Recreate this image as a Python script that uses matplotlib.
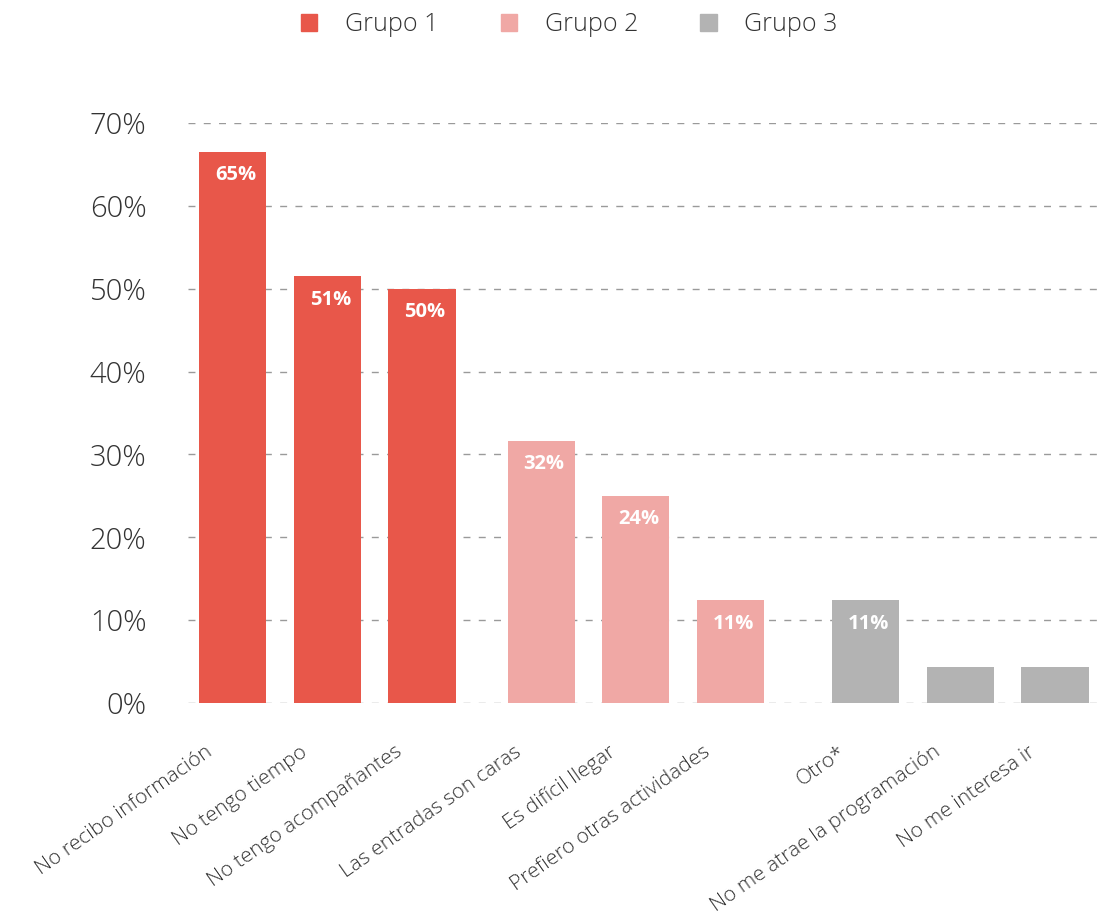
import matplotlib
matplotlib.use("Agg")
import matplotlib.pyplot as plt
import matplotlib.transforms as mtransforms
import numpy as np
from matplotlib.patches import Patch

plt.rcParams["font.family"] = ["Open Sans", "DejaVu Sans"]

categories = [
    "No recibo información", "No tengo tiempo", "No tengo acompañantes",
    "Las entradas son caras", "Es difícil llegar", "Prefiero otras actividades",
    "Otro*", "No me atrae la programación", "No me interesa ir",
]
values = [66.5, 51.5, 50.0, 31.6, 25.0, 12.4, 12.4, 4.3, 4.3]
value_labels = ["65%", "51%", "50%", "32%", "24%", "11%", "11%", "", ""]
groups = [1, 1, 1, 2, 2, 2, 3, 3, 3]
group_names = ["Grupo 1", "Grupo 2", "Grupo 3"]
group_colors = {1: "#E8574A", 2: "#F0A8A5", 3: "#B3B3B3"}

# x positions: extra gap between groups
gaps = {1: 0.0, 2: 0.26, 3: 0.69}
x = np.arange(len(categories)) + np.array([gaps[g] for g in groups])

fig = plt.figure(figsize=(11.14, 9.23), dpi=100)
ax = fig.add_axes([0.169, 0.2383, 0.818, 0.6284])

ax.bar(x, values, width=0.71, color=[group_colors[g] for g in groups], zorder=2)
for xi, v, lab in zip(x, values, value_labels):
    if lab:
        ax.text(xi + 0.03, v - 2.8, lab, ha="center", va="center", color="white",
                fontsize=14.5, fontweight="bold", zorder=3)

ax.set_ylim(0, 70)
ax.set_xlim(x[0] - 0.47, x[-1] + 0.47)
ax.set_yticks(np.arange(0, 71, 10))
ax.set_yticklabels([f"{t}%" for t in range(0, 71, 10)], fontweight="light")
ax.yaxis.grid(True, color="#9a9a9a", linestyle=(0, (5, 6)), linewidth=1, zorder=1)
ax.tick_params(axis="y", length=0, pad=30, labelsize=21, labelcolor="#333333")
ax.tick_params(axis="x", length=0, pad=34, labelsize=15, labelcolor="#333333")
for s in ax.spines.values():
    s.set_visible(False)

ax.set_xticks(x)
ax.set_xticklabels(categories, rotation=35, ha="right", va="center",
                   rotation_mode="anchor", fontweight="light")
offset = mtransforms.ScaledTranslation(-0.22, 0, fig.dpi_scale_trans)
for lbl in ax.get_xticklabels():
    lbl.set_transform(lbl.get_transform() + offset)

handles = [Patch(color=group_colors[g]) for g in (1, 2, 3)]
leg = fig.legend(handles, group_names, loc="center", bbox_to_anchor=(0.511, 0.973), ncol=3,
                 frameon=False, fontsize=18, handlelength=0.65, handleheight=0.65,
                 handletextpad=1.1, columnspacing=2.5, labelcolor="#333333")
for t in leg.get_texts():
    t.set_fontweight("light")

fig.savefig("out.png", dpi=100)
